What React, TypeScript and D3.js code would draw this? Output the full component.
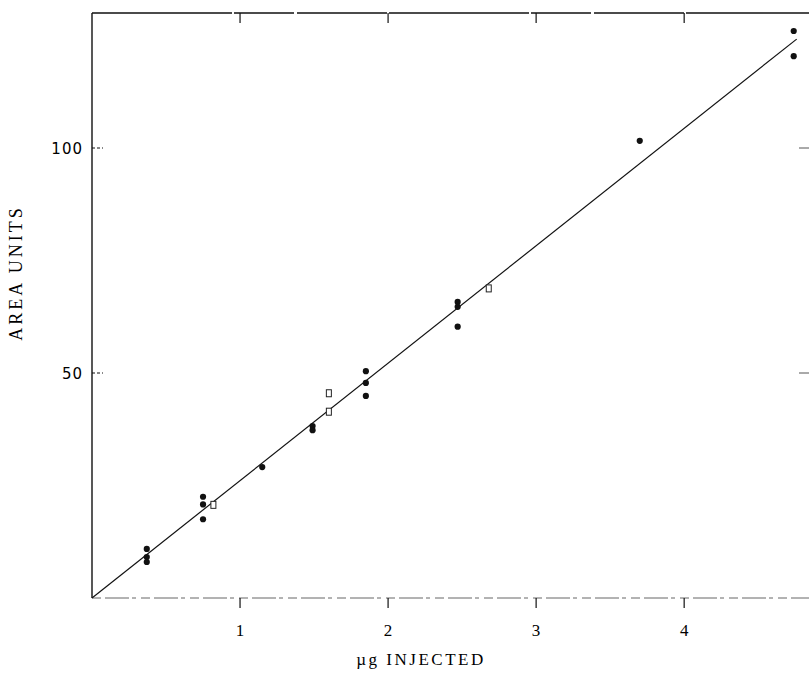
import React, { useEffect, useRef } from "react";
import * as d3 from "d3";

const doseSolid = [0.37, 0.37, 0.37, 0.75, 0.75, 0.75, 1.15, 1.49, 1.49, 1.85, 1.85, 1.85, 2.47, 2.47, 2.47, 3.7, 4.74, 4.74];
const areaSolid = [10.9, 9.1, 8.0, 22.5, 20.8, 17.5, 29.1, 38.2, 37.3, 50.4, 47.8, 44.9, 65.8, 64.7, 60.3, 101.6, 126.0, 120.4];
const doseOpen = [0.82, 1.6, 1.6, 2.68];
const areaOpen = [20.7, 45.5, 41.4, 68.8];
const fitDose = [0, 4.76];
const fitArea = [0, 124.2];
const xTicks = [1, 2, 3, 4];
const yTicks = [50, 100];

const App = () => {
  const svgRef = useRef<SVGSVGElement>(null);

  useEffect(() => {
    const width = 809, height = 690;
    const svg = d3.select(svgRef.current)
      .attr("width", width)
      .attr("height", height);
    svg.selectAll("*").remove();

    const x = d3.scaleLinear().domain([0, 4.85]).range([92, 810]);
    const y = d3.scaleLinear().domain([0, 130]).range([598, 13]);

    const frame = svg.append("g").attr("stroke", "#111").attr("fill", "none");
    // left axis
    frame.append("line")
      .attr("x1", x(0)).attr("x2", x(0))
      .attr("y1", y(130)).attr("y2", y(0))
      .attr("stroke-width", 1.4);
    // top edge, nearly solid
    frame.append("line")
      .attr("x1", x(0)).attr("x2", width)
      .attr("y1", y(130)).attr("y2", y(130))
      .attr("stroke-width", 1.3)
      .attr("stroke-dasharray", "140,2,60,3,90,2");
    // bottom edge, faint and broken
    frame.append("line")
      .attr("x1", x(0)).attr("x2", width)
      .attr("y1", y(0)).attr("y2", y(0))
      .attr("stroke", "#666")
      .attr("stroke-width", 1)
      .attr("stroke-dasharray", "9,4,24,3,4,5");

    // ticks on top and bottom
    xTicks.forEach(t => {
      frame.append("line")
        .attr("x1", x(t)).attr("x2", x(t))
        .attr("y1", y(0)).attr("y2", y(0) + 10)
        .attr("stroke-width", 1.2);
      frame.append("line")
        .attr("x1", x(t)).attr("x2", x(t))
        .attr("y1", y(130)).attr("y2", y(130) + 10)
        .attr("stroke-width", 1.2);
    });
    yTicks.forEach(t => {
      frame.append("line")
        .attr("x1", x(0)).attr("x2", x(0) + 11)
        .attr("y1", y(t)).attr("y2", y(t))
        .attr("stroke-width", 1)
        .attr("stroke-dasharray", "3,2");
      frame.append("line")
        .attr("x1", width - 10).attr("x2", width)
        .attr("y1", y(t)).attr("y2", y(t))
        .attr("stroke", "#555")
        .attr("stroke-width", 1);
    });

    svg.selectAll(".xlab")
      .data(xTicks)
      .enter()
      .append("text")
      .attr("class", "xlab")
      .attr("x", d => x(d))
      .attr("y", y(0) + 38)
      .attr("text-anchor", "middle")
      .attr("font-family", "Liberation Serif")
      .attr("font-size", 17)
      .attr("fill", "#000")
      .text(d => d);

    svg.selectAll(".ylab")
      .data(yTicks)
      .enter()
      .append("text")
      .attr("class", "ylab")
      .attr("x", x(0) - 9)
      .attr("y", d => y(d) + 6)
      .attr("text-anchor", "end")
      .attr("font-family", "DejaVu Sans")
      .attr("font-size", 15)
      .attr("letter-spacing", 1)
      .attr("fill", "#000")
      .text(d => d);

    svg.append("text")
      .attr("transform", `translate(22, 273) rotate(-90)`)
      .attr("text-anchor", "middle")
      .attr("font-family", "Liberation Serif")
      .attr("font-size", 18)
      .attr("letter-spacing", 3)
      .attr("fill", "#000")
      .text("AREA UNITS");

    svg.append("text")
      .attr("x", 421)
      .attr("y", 665)
      .attr("text-anchor", "middle")
      .attr("font-family", "Liberation Serif")
      .attr("font-size", 17)
      .attr("letter-spacing", 2.5)
      .attr("fill", "#000")
      .text("µg INJECTED");

    // fitted line
    const line = d3.line<number>()
      .x(d => x(fitDose[d]))
      .y(d => y(fitArea[d]));
    svg.append("path")
      .attr("d", line([0, 1]))
      .attr("fill", "none")
      .attr("stroke", "#111")
      .attr("stroke-width", 1.2);

    svg.selectAll(".solid")
      .data(doseSolid)
      .enter()
      .append("circle")
      .attr("class", "solid")
      .attr("cx", d => x(d))
      .attr("cy", (d, i) => y(areaSolid[i]))
      .attr("r", 3.1)
      .attr("fill", "#111");

    svg.selectAll(".open")
      .data(doseOpen)
      .enter()
      .append("rect")
      .attr("class", "open")
      .attr("x", d => x(d) - 2.5)
      .attr("y", (d, i) => y(areaOpen[i]) - 3.5)
      .attr("width", 5)
      .attr("height", 7)
      .attr("fill", "white")
      .attr("stroke", "#222")
      .attr("stroke-width", 1);
  }, []);

  return <svg ref={svgRef} style={{ position: "absolute", left: 0, top: 0, display: "block" }}></svg>;
};

export default App;
